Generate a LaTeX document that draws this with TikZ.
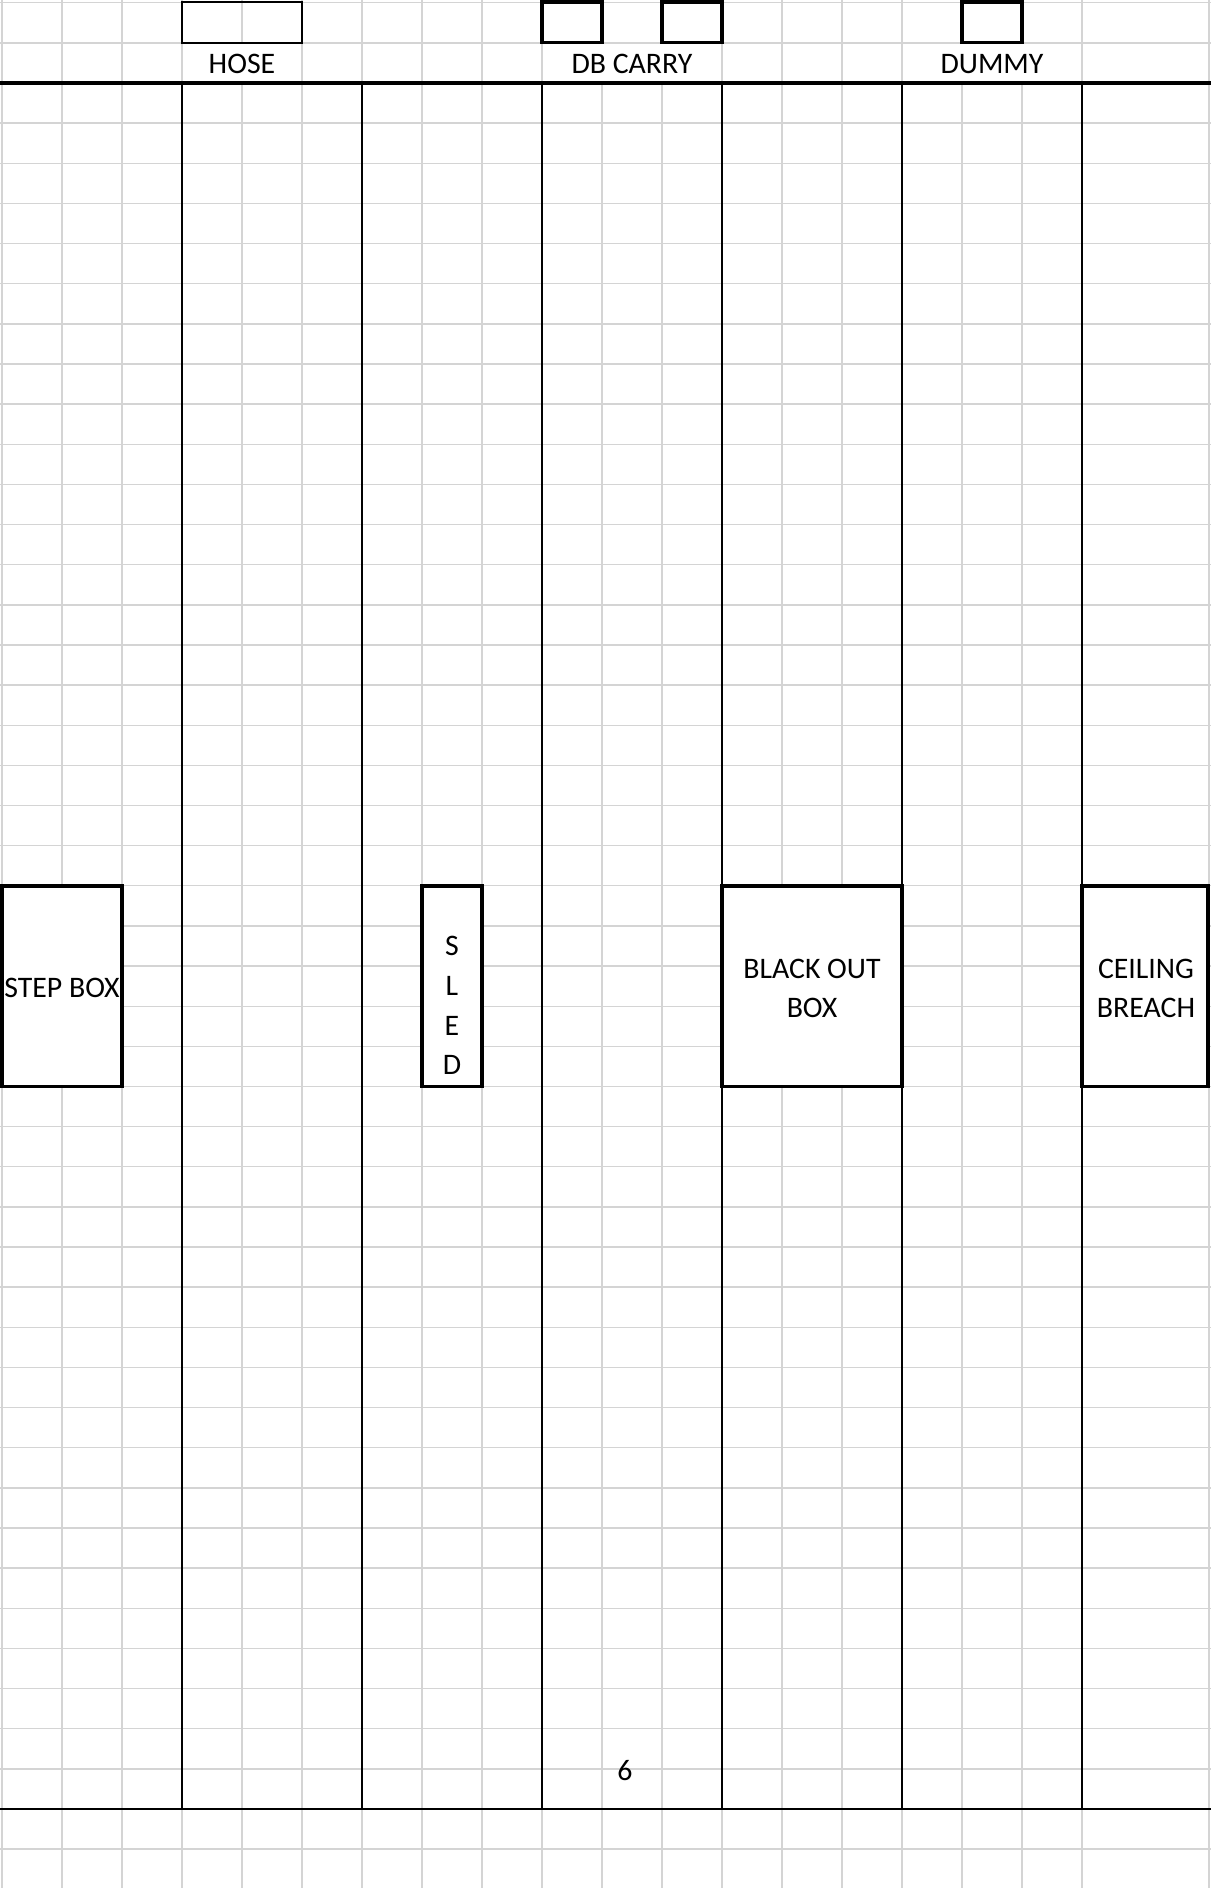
\documentclass[tikz,border=0pt]{standalone}
\usepackage{fontspec}
\setmainfont{Carlito}
\definecolor{gridgray}{HTML}{D4D4D4}
\begin{document}
\begin{tikzpicture}[x=0.5pt,y=-0.5pt,
  gridline/.style={draw=gridgray, line width=0.7pt},
  lane/.style={draw=black, line width=0.9pt},
  toprule/.style={draw=black, line width=2pt},
  botrule/.style={draw=black, line width=1.1pt},
  thinbox/.style={draw=black, line width=0.75pt},
  cellbox/.style={draw=black, line width=1.6pt},
  bigbox/.style={draw=black, line width=1.7pt, fill=white},
  lbl/.style={font=\fontsize{14.9}{17}\selectfont, inner sep=0pt, anchor=base}]
\fill[white] (0,0) rectangle (1211,1888);
\useasboundingbox (0,0) rectangle (1211,1888);
% horizontal grid
\foreach \k in {0,...,46} {
  \draw[gridline] (0,{2.7+40.14*\k}) -- (1211,{2.7+40.14*\k});
}
% vertical grid (full)
\foreach \x in {2,62,122,182,302,362,422,482,542,722,782,842,902,1082,1209} {
  \draw[gridline] (\x,0) -- (\x,1888);
}
% vertical grid hidden in label row
\foreach \x in {242,602,662,962,1022} {
  \draw[gridline] (\x,0) -- (\x,42.8);
  \draw[gridline] (\x,83) -- (\x,1888);
}
% lanes
\foreach \x in {182,362,542,722,902,1082} {
  \draw[lane] (\x,83.5) -- (\x,1809);
}
\draw[toprule] (0,83.5) -- (1211,83.5);
\draw[botrule] (0,1809) -- (1211,1809);
% top boxes
\draw[thinbox] (182,2) rectangle (302,42.8);
\draw[cellbox] (542,2) rectangle (602,42.8);
\draw[cellbox] (662,2) rectangle (722,42.8);
\draw[cellbox] (962,2) rectangle (1022,42.8);
% labels
\node[lbl] (hose) at (242,74) {HOSE};
\node[lbl] (dbcarry) at (632,74) {DB CARRY};
\node[lbl] (dummy) at (992,74) {DUMMY};
% big boxes
\draw[bigbox] (2,885.8) rectangle (122,1086.5);
\draw[bigbox] (422,885.8) rectangle (482,1086.5);
\draw[bigbox] (722,885.8) rectangle (902,1086.5);
\draw[bigbox] (1082,885.8) rectangle (1208,1086.5);
\node[lbl] (stepbox) at (62,997) {STEP BOX};
\node[lbl] (sleds) at (452,955) {S};
\node[lbl] (sledl) at (452,995) {L};
\node[lbl] (slede) at (452,1035) {E};
\node[lbl] (sledd) at (452,1074) {D};
\node[lbl] (black1) at (812,978) {BLACK OUT};
\node[lbl] (black2) at (812,1017) {BOX};
\node[lbl] (ceil1) at (1146,978) {CEILING};
\node[lbl] (ceil2) at (1146,1017) {BREACH};
\node[lbl] (six) at (625,1780) {6};
\end{tikzpicture}
\end{document}
